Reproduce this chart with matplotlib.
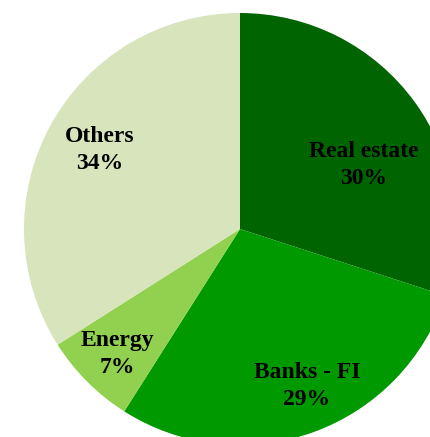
import matplotlib.pyplot as plt

sectors = ["Real estate", "Banks - FI", "Energy", "Others"]
shares = [30, 29, 7, 34]
colors = ["#006400", "#009900", "#92D050", "#D8E4BC"]

# label centres in data units (pie radius = 1)
label_pos = [(0.574, 0.296), (0.310, -0.727), (-0.569, -0.579), (-0.648, 0.366)]

fig = plt.figure(figsize=(4.30, 4.37), dpi=100)
ax = fig.add_axes([0, 0, 1, 1])

ax.pie(shares, colors=colors, startangle=90, counterclock=False,
       radius=1.0, center=(0, 0), frame=True,
       wedgeprops=dict(linewidth=0))

for name, val, (x, y) in zip(sectors, shares, label_pos):
    ax.text(x, y, f"{name}\n{val}%", ha="center", va="center",
            fontsize=17, fontweight="bold", family="Liberation Serif",
            linespacing=1.35, color="black")

ax.set_xlim(-240 / 216, 190 / 216)
ax.set_ylim(-208 / 216, 229 / 216)
ax.set_aspect("auto")
ax.axis("off")

fig.savefig("out.png", dpi=100)
